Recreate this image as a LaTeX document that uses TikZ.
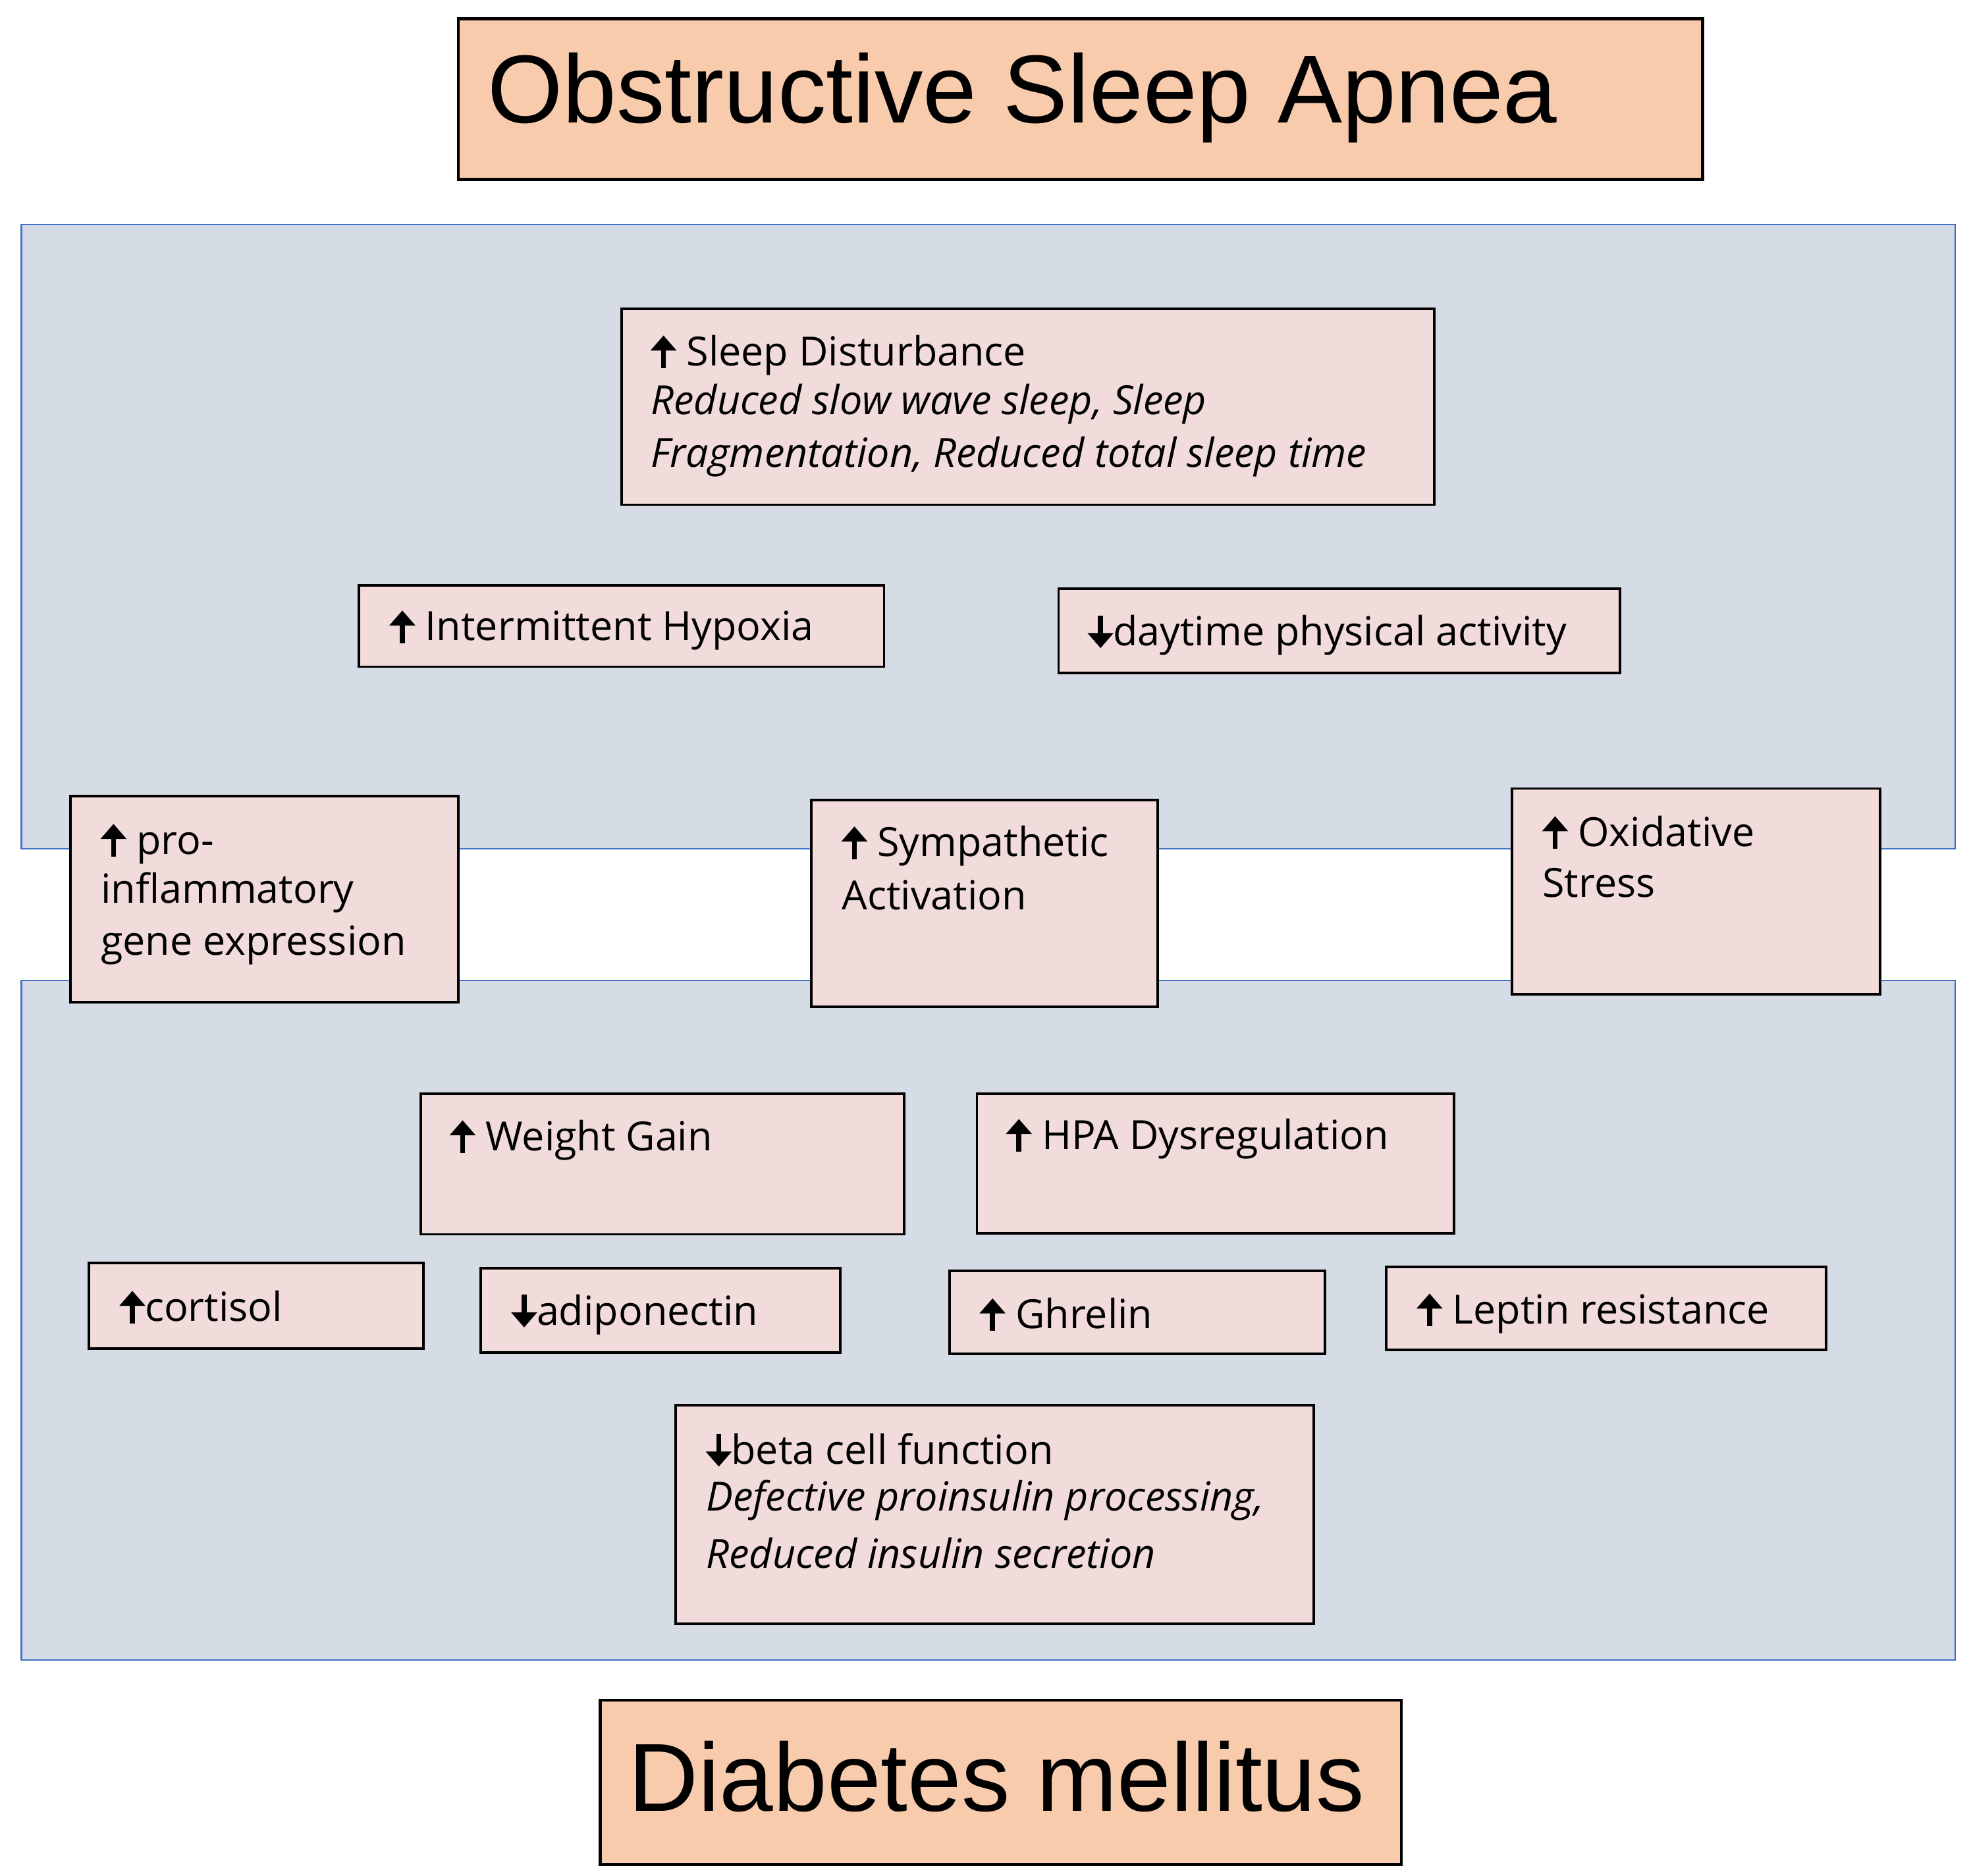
\documentclass[tikz,border=0pt]{standalone}
\usepackage{fontspec}
\usetikzlibrary{arrows.meta}
\setmainfont{Open Sans}
\newfontfamily\titlefont{Liberation Sans}
\definecolor{panel}{HTML}{D6DCE5}
\definecolor{panelline}{HTML}{4472C4}
\definecolor{boxfill}{HTML}{F2DCDB}
\definecolor{orange}{HTML}{F8CBAD}
\newcommand{\up}{\tikz[baseline=0pt]{\draw[line width=2pt,-{Triangle[length=6pt,width=10pt]}] (0pt,-1pt)--(0pt,12pt);}}
\newcommand{\dn}{\tikz[baseline=0pt]{\draw[line width=2pt,-{Triangle[length=6pt,width=10pt]}] (0pt,12pt)--(0pt,-1pt);}}
\begin{document}
\begin{tikzpicture}[x=0.5pt,y=-0.5pt,
  panelst/.style={fill=panel,draw=panelline,line width=0.6pt},
  boxst/.style={fill=boxfill,draw=black,line width=1pt},
  titlest/.style={fill=orange,draw=black,line width=1.2pt},
  txt/.style={anchor=west,inner sep=0pt,font=\fontsize{16}{20}\selectfont},
  big/.style={anchor=west,inner sep=0pt,font=\titlefont\fontsize{38.5}{44}\selectfont}]
\useasboundingbox (0,0) rectangle (1568,1494);
\fill[white] (0,0) rectangle (1568,1494);
\draw[titlest] (365,15) rectangle (1356,143);
\node[big] (t1) at (388,78) {Obstructive Sleep Apnea};
\draw[panelst] (17,179) rectangle (1557,676);
\draw[panelst] (17,781) rectangle (1557,1322);
\draw[boxst] (495,246) rectangle (1142,402);
\node[txt] (s1) at (518,282) {\up\ Sleep Disturbance};
\node[txt] (s2) at (518,322) {\itshape Reduced slow wave sleep, Sleep};
\node[txt] (s3) at (518,364) {\itshape Fragmentation, Reduced total sleep time};
\draw[boxst] (286,466) rectangle (704,531);
\node[txt] (h) at (310,501) {\up\ Intermittent Hypoxia};
\draw[boxst] (843,469) rectangle (1290,536);
\node[txt] (d) at (866,505) {\dn daytime physical activity};
\draw[boxst] (56,634) rectangle (365,798);
\node[txt] (p1) at (80,671) {\up\ pro-};
\node[txt] (p2) at (80,711) {inflammatory};
\node[txt] (p3) at (80,753) {gene expression};
\draw[boxst] (646,637) rectangle (922,802);
\node[txt] (a1) at (670,673) {\up\ Sympathetic};
\node[txt] (a2) at (670,713) {Activation};
\draw[boxst] (1204,628) rectangle (1497,792);
\node[txt] (o1) at (1228,663) {\up\ Oxidative};
\node[txt] (o2) at (1228,703) {Stress};
\draw[boxst] (335,871) rectangle (720,983);
\node[txt] (w) at (358,907) {\up\ Weight Gain};
\draw[boxst] (778,871) rectangle (1158,982);
\node[txt] (hp) at (801,906) {\up\ HPA Dysregulation};
\draw[boxst] (71,1006) rectangle (337,1074);
\node[txt] (c) at (95,1041) {\up cortisol};
\draw[boxst] (383,1010) rectangle (669,1077);
\node[txt] (ad) at (407,1046) {\dn adiponectin};
\draw[boxst] (756,1012) rectangle (1055,1078);
\node[txt] (g) at (780,1047) {\up\ Ghrelin};
\draw[boxst] (1104,1009) rectangle (1454,1075);
\node[txt] (l) at (1128,1045) {\up\ Leptin resistance};
\draw[boxst] (538,1119) rectangle (1046,1293);
\node[txt] (b1) at (562,1155) {\dn beta cell function};
\node[txt] (b2) at (562,1195) {\itshape Defective proinsulin processing,};
\node[txt] (b3) at (562,1237) {\itshape Reduced insulin secretion};
\draw[titlest] (478,1354) rectangle (1116,1485);
\node[big] (t2) at (500,1415) {Diabetes mellitus};
\end{tikzpicture}
\end{document}
